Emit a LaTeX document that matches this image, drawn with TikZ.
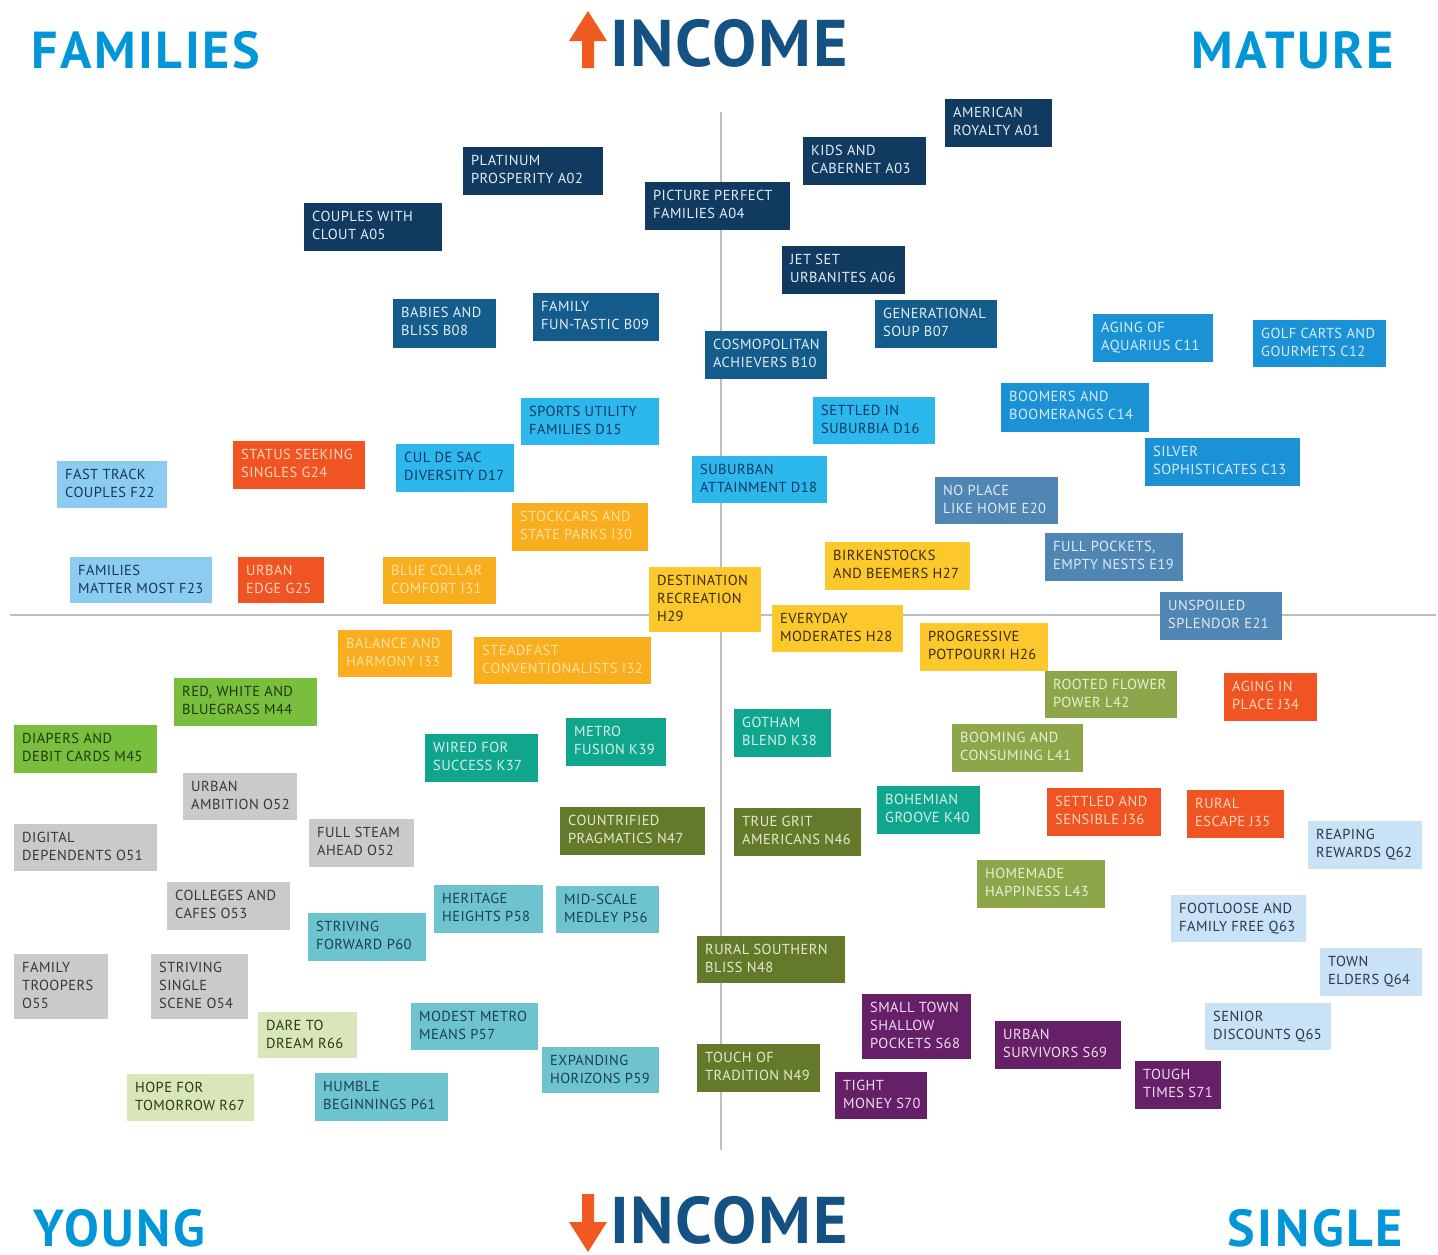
\documentclass[tikz,border=0pt]{standalone}
\usepackage{fontspec}
\setmainfont[LetterSpace=3]{PT Sans}
\newfontfamily\headfont[LetterSpace=5]{PT Sans Bold}
\newfontfamily\incomefont[LetterSpace=2.7]{PT Sans Bold}

% segment group colours (fill / text)
\definecolor{fillA}{RGB}{16,58,96}    \definecolor{txtA}{RGB}{228,236,244}
\definecolor{fillB}{RGB}{20,92,140}   \definecolor{txtB}{RGB}{228,236,244}
\definecolor{fillC}{RGB}{28,146,214}  \definecolor{txtC}{RGB}{214,236,250}
\definecolor{fillD}{RGB}{44,184,236}  \definecolor{txtD}{RGB}{14,56,96}
\definecolor{fillE}{RGB}{80,134,180}  \definecolor{txtE}{RGB}{226,234,244}
\definecolor{fillF}{RGB}{140,204,240} \definecolor{txtF}{RGB}{22,56,90}
\definecolor{fillG}{RGB}{240,84,34}   \definecolor{txtG}{RGB}{252,214,190}
\definecolor{fillH}{RGB}{252,200,44}  \definecolor{txtH}{RGB}{58,44,10}
\definecolor{fillI}{RGB}{248,174,30}  \definecolor{txtI}{RGB}{252,226,160}
\definecolor{fillK}{RGB}{16,166,142}  \definecolor{txtK}{RGB}{214,240,234}
\definecolor{fillL}{RGB}{142,166,74}  \definecolor{txtL}{RGB}{232,238,216}
\definecolor{fillM}{RGB}{122,190,62}  \definecolor{txtM}{RGB}{30,58,16}
\definecolor{fillN}{RGB}{100,122,42}  \definecolor{txtN}{RGB}{228,234,208}
\definecolor{fillO}{RGB}{202,202,202} \definecolor{txtO}{RGB}{56,56,56}
\definecolor{fillP}{RGB}{110,196,206} \definecolor{txtP}{RGB}{28,62,80}
\definecolor{fillQ}{RGB}{202,226,245} \definecolor{txtQ}{RGB}{40,56,72}
\definecolor{fillR}{RGB}{216,230,186} \definecolor{txtR}{RGB}{40,56,26}
\definecolor{fillS}{RGB}{102,32,104}  \definecolor{txtS}{RGB}{240,220,240}
\definecolor{headblue}{RGB}{0,150,215}
\definecolor{incomeblue}{RGB}{20,82,132}
\definecolor{arroworange}{RGB}{240,90,32}
\definecolor{axisgray}{RGB}{190,190,190}

% one segment: name, group style, x1, y1, x2, y2, text
\newcommand{\seg}[7]{%
  \node[#2, segbox, minimum width={(#5-#3)*1pt}, minimum height={(#6-#4)*1pt}] (#1) at (#3,#4) {};
  \node[#2, fill=none, seglabel] (#1-t) at ([xshift=8pt,yshift=-8pt]#1.north west) {#7};
}

\begin{document}
\begin{tikzpicture}[x=1pt,y=-1pt,
  segbox/.style={anchor=north west,inner sep=0pt,draw=none},
  seglabel/.style={anchor=north west,inner sep=0pt,align=left,font=\fontsize{14.5}{18}\selectfont},
  grpA/.style={fill=fillA,text=txtA}, grpB/.style={fill=fillB,text=txtB},
  grpC/.style={fill=fillC,text=txtC}, grpD/.style={fill=fillD,text=txtD},
  grpE/.style={fill=fillE,text=txtE}, grpF/.style={fill=fillF,text=txtF},
  grpG/.style={fill=fillG,text=txtG}, grpH/.style={fill=fillH,text=txtH},
  grpI/.style={fill=fillI,text=txtI}, grpK/.style={fill=fillK,text=txtK},
  grpL/.style={fill=fillL,text=txtL}, grpM/.style={fill=fillM,text=txtM},
  grpN/.style={fill=fillN,text=txtN}, grpO/.style={fill=fillO,text=txtO},
  grpP/.style={fill=fillP,text=txtP}, grpQ/.style={fill=fillQ,text=txtQ},
  grpR/.style={fill=fillR,text=txtR}, grpS/.style={fill=fillS,text=txtS},
  corner/.style={text=headblue,inner sep=0pt,text depth=0pt,font=\headfont\fontsize{52}{52}\selectfont},
  income/.style={text=incomeblue,inner sep=0pt,text depth=0pt,font=\incomefont\fontsize{66}{66}\selectfont},
  axis/.style={draw=axisgray,line width=1.5pt}]

\useasboundingbox[fill=white] (0,0) rectangle (1438,1254);

% axes
\coordinate (ax-top) at (721,112);
\coordinate (ax-bottom) at (721,1150);
\coordinate (ax-left) at (10,615);
\coordinate (ax-right) at (1436,615);
\draw[axis] (ax-top) -- (ax-bottom);
\draw[axis] (ax-left) -- (ax-right);

% corner headings
\node[corner,anchor=base west] (families) at (31,68) {FAMILIES};
\node[corner,anchor=base east] (mature) at (1394,68) {MATURE};
\node[corner,anchor=base west] (young) at (33,1246) {YOUNG};
\node[corner,anchor=base east] (single) at (1403,1246) {SINGLE};

% income headings with arrows
\node[income,anchor=base west] (income-up) at (610,66) {INCOME};
\node[income,anchor=base west] (income-down) at (610,1243) {INCOME};
\fill[arroworange] (588,11) -- (607,41) -- (594,41) -- (594,68) -- (582,68) -- (582,41) -- (569,41) -- cycle;
\fill[arroworange] (588,1252) -- (607,1222) -- (594,1222) -- (594,1194) -- (582,1194) -- (582,1222) -- (569,1222) -- cycle;

% A
\seg{a01}{grpA}{945}{99}{1052}{147}{AMERICAN\\ROYALTY A01}
\seg{a03}{grpA}{803}{137}{926}{185}{KIDS AND\\CABERNET A03}
\seg{a02}{grpA}{463}{147}{603}{195}{PLATINUM\\PROSPERITY A02}
\seg{a04}{grpA}{645}{182}{790}{230}{PICTURE PERFECT\\FAMILIES A04}
\seg{a05}{grpA}{304}{203}{442}{251}{COUPLES WITH\\CLOUT A05}
\seg{a06}{grpA}{782}{246}{905}{294}{JET SET\\URBANITES A06}
% B
\seg{b08}{grpB}{393}{299}{496}{348}{BABIES AND\\BLISS B08}
\seg{b09}{grpB}{533}{293}{659}{341}{FAMILY\\FUN-TASTIC B09}
\seg{b07}{grpB}{875}{300}{997}{348}{GENERATIONAL\\SOUP B07}
\seg{b10}{grpB}{705}{331}{827}{379}{COSMOPOLITAN\\ACHIEVERS B10}
% C
\seg{c11}{grpC}{1093}{314}{1213}{362}{AGING OF\\AQUARIUS C11}
\seg{c12}{grpC}{1253}{320}{1386}{367}{GOLF CARTS AND\\GOURMETS C12}
\seg{c14}{grpC}{1001}{383}{1149}{432}{BOOMERS AND\\BOOMERANGS C14}
\seg{c13}{grpC}{1145}{438}{1300}{486}{SILVER\\SOPHISTICATES C13}
% D
\seg{d15}{grpD}{521}{398}{659}{445}{SPORTS UTILITY\\FAMILIES D15}
\seg{d16}{grpD}{813}{397}{935}{444}{SETTLED IN\\SUBURBIA D16}
\seg{d17}{grpD}{396}{444}{514}{492}{CUL DE SAC\\DIVERSITY D17}
\seg{d18}{grpD}{692}{456}{827}{503}{SUBURBAN\\ATTAINMENT D18}
% E
\seg{e20}{grpE}{935}{477}{1058}{524}{NO PLACE\\LIKE HOME E20}
\seg{e19}{grpE}{1045}{533}{1183}{581}{FULL POCKETS,\\EMPTY NESTS E19}
\seg{e21}{grpE}{1160}{592}{1282}{640}{UNSPOILED\\SPLENDOR E21}
% F
\seg{f22}{grpF}{57}{461}{167}{508}{FAST TRACK\\COUPLES F22}
\seg{f23}{grpF}{70}{557}{212}{603}{FAMILIES\\MATTER MOST F23}
% G
\seg{g24}{grpG}{233}{441}{365}{489}{STATUS SEEKING\\SINGLES G24}
\seg{g25}{grpG}{238}{557}{324}{603}{URBAN\\EDGE G25}
% H
\seg{h29}{grpH}{649}{567}{761}{632}{DESTINATION\\RECREATION\\H29}
\seg{h27}{grpH}{825}{542}{970}{590}{BIRKENSTOCKS\\AND BEEMERS H27}
\seg{h28}{grpH}{772}{605}{903}{652}{EVERYDAY\\MODERATES H28}
\seg{h26}{grpH}{920}{623}{1048}{671}{PROGRESSIVE\\POTPOURRI H26}
% I
\seg{i30}{grpI}{512}{503}{648}{551}{STOCKCARS AND\\STATE PARKS I30}
\seg{i31}{grpI}{383}{557}{496}{604}{BLUE COLLAR\\COMFORT I31}
\seg{i33}{grpI}{338}{630}{452}{677}{BALANCE AND\\HARMONY I33}
\seg{i32}{grpI}{474}{637}{651}{684}{STEADFAST\\CONVENTIONALISTS I32}
% J
\seg{j34}{grpG}{1224}{673}{1317}{721}{AGING IN\\PLACE J34}
\seg{j36}{grpG}{1047}{788}{1161}{836}{SETTLED AND\\SENSIBLE J36}
\seg{j35}{grpG}{1187}{790}{1284}{838}{RURAL\\ESCAPE J35}
% K
\seg{k37}{grpK}{425}{734}{538}{782}{WIRED FOR\\SUCCESS K37}
\seg{k39}{grpK}{566}{718}{666}{766}{METRO\\FUSION K39}
\seg{k38}{grpK}{734}{709}{831}{757}{GOTHAM\\BLEND K38}
\seg{k40}{grpK}{877}{786}{980}{834}{BOHEMIAN\\GROOVE K40}
% L
\seg{l42}{grpL}{1045}{671}{1177}{718}{ROOTED FLOWER\\POWER L42}
\seg{l41}{grpL}{952}{724}{1083}{772}{BOOMING AND\\CONSUMING L41}
\seg{l43}{grpL}{977}{860}{1105}{908}{HOMEMADE\\HAPPINESS L43}
% M
\seg{m44}{grpM}{174}{678}{317}{726}{RED, WHITE AND\\BLUEGRASS M44}
\seg{m45}{grpM}{14}{725}{157}{773}{DIAPERS AND\\DEBIT CARDS M45}
% N
\seg{n47}{grpN}{560}{807}{705}{855}{COUNTRIFIED\\PRAGMATICS N47}
\seg{n46}{grpN}{734}{808}{861}{856}{TRUE GRIT\\AMERICANS N46}
\seg{n48}{grpN}{697}{936}{845}{983}{RURAL SOUTHERN\\BLISS N48}
\seg{n49}{grpN}{697}{1044}{820}{1092}{TOUCH OF\\TRADITION N49}
% O
\seg{o52}{grpO}{183}{773}{297}{820}{URBAN\\AMBITION O52}
\seg{o51}{grpO}{14}{824}{157}{871}{DIGITAL\\DEPENDENTS O51}
\seg{o50}{grpO}{309}{819}{414}{867}{FULL STEAM\\AHEAD O52}
\seg{o53}{grpO}{167}{882}{290}{930}{COLLEGES AND\\CAFES O53}
\seg{o55}{grpO}{14}{954}{108}{1019}{FAMILY\\TROOPERS\\O55}
\seg{o54}{grpO}{151}{954}{248}{1019}{STRIVING\\SINGLE\\SCENE O54}
% P
\seg{p58}{grpP}{434}{885}{543}{933}{HERITAGE\\HEIGHTS P58}
\seg{p56}{grpP}{556}{886}{659}{933}{MID-SCALE\\MEDLEY P56}
\seg{p60}{grpP}{308}{913}{426}{961}{STRIVING\\FORWARD P60}
\seg{p57}{grpP}{411}{1003}{538}{1050}{MODEST METRO\\MEANS P57}
\seg{p59}{grpP}{542}{1047}{659}{1093}{EXPANDING\\HORIZONS P59}
\seg{p61}{grpP}{315}{1073}{448}{1121}{HUMBLE\\BEGINNINGS P61}
% Q
\seg{q62}{grpQ}{1308}{821}{1422}{869}{REAPING\\REWARDS Q62}
\seg{q63}{grpQ}{1171}{895}{1306}{942}{FOOTLOOSE AND\\FAMILY FREE Q63}
\seg{q64}{grpQ}{1320}{948}{1422}{996}{TOWN\\ELDERS Q64}
\seg{q65}{grpQ}{1205}{1003}{1331}{1050}{SENIOR\\DISCOUNTS Q65}
% R
\seg{r66}{grpR}{258}{1012}{357}{1058}{DARE TO\\DREAM R66}
\seg{r67}{grpR}{127}{1074}{254}{1121}{HOPE FOR\\TOMORROW R67}
% S
\seg{s68}{grpS}{862}{994}{971}{1059}{SMALL TOWN\\SHALLOW\\POCKETS S68}
\seg{s69}{grpS}{995}{1021}{1121}{1069}{URBAN\\SURVIVORS S69}
\seg{s70}{grpS}{835}{1072}{927}{1119}{TIGHT\\MONEY S70}
\seg{s71}{grpS}{1135}{1061}{1221}{1109}{TOUGH\\TIMES S71}

\end{tikzpicture}
\end{document}
